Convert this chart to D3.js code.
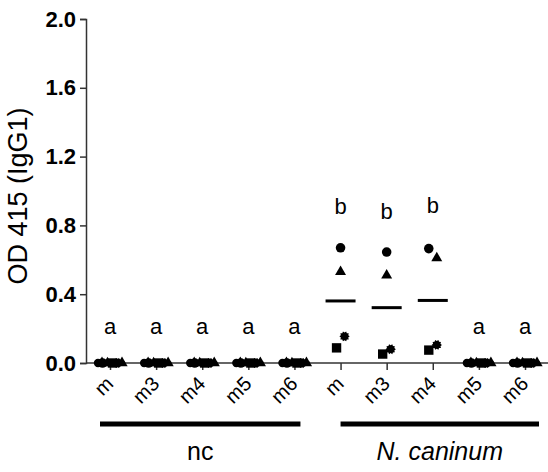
<!DOCTYPE html>
<html lang="en">
<head>
  <meta charset="UTF-8">
  <title>OD 415 (IgG1)</title>
  <script src="https://d3js.org/d3.v7.min.js"></script>
  <style>
    body { margin: 0; background: #fff; font-family: "Liberation Sans", Arial, sans-serif; }
    .tick text { font-family: "Liberation Sans", Arial, sans-serif; }
  </style>
</head>
<body>
<svg width="548" height="472"></svg>
<script>
  // groups on the x axis
  const groups = ["nc", "N. caninum"];
  const antigens = ["m", "m3", "m4", "m5", "m6"];
  // one value per animal (circle, triangle, square, star), per group × antigen
  const ncValues = [
    [0, 0, 0, 0],
    [0, 0, 0, 0],
    [0, 0, 0, 0],
    [0, 0, 0, 0],
    [0, 0, 0, 0]
  ];
  const neoValues = [
    [0.67, 0.53, 0.088, 0.155],
    [0.645, 0.51, 0.052, 0.08],
    [0.665, 0.61, 0.075, 0.105],
    [0, 0, 0, 0],
    [0, 0, 0, 0]
  ];
  const letters = ["a", "a", "a", "a", "a", "b", "b", "b", "a", "a"];
  const letterLevels = [0.17, 0.17, 0.17, 0.17, 0.17, 0.865, 0.84, 0.87, 0.17, 0.17];
  const yTicks = [0, 0.4, 0.8, 1.2, 1.6, 2.0];

  const svg = d3.select("svg");

  const cells = [];
  groups.forEach((g, gi) => {
    const vals = gi === 0 ? ncValues : neoValues;
    antigens.forEach((a, ai) => {
      cells.push({ key: g + "|" + a, group: g, antigen: a, values: vals[ai] });
    });
  });

  const x = d3.scalePoint().domain(cells.map(d => d.key)).range([110, 525]);
  const y = d3.scaleLinear().domain([0, 2]).range([363, 19]);

  // gear-like marker
  const gear = {
    draw(ctx, size) {
      const r = Math.sqrt(size / Math.PI) * 1.08, n = 10;
      for (let i = 0; i < n * 2; i++) {
        const rr = i % 2 ? r * 0.75 : r;
        const ang = i * Math.PI / n;
        i ? ctx.lineTo(rr * Math.cos(ang), rr * Math.sin(ang)) : ctx.moveTo(rr, 0);
      }
      ctx.closePath();
    }
  };
  const shapes = [d3.symbolCircle, d3.symbolTriangle, d3.symbolSquare, gear];
  const sizes = [72, 52, 88, 72];

  // y axis
  const yAxis = svg.append("g")
    .attr("transform", "translate(86,0)")
    .call(d3.axisLeft(y).tickValues(yTicks).tickFormat(d3.format(".1f")).tickSize(6).tickPadding(4));
  yAxis.select(".domain").attr("stroke", "#333").attr("stroke-width", 1.5);
  yAxis.selectAll(".tick line").attr("stroke", "#333").attr("stroke-width", 1.5);
  yAxis.selectAll(".tick text").attr("font-size", 22).attr("font-weight", "bold").attr("fill", "#000");

  // x axis
  const xAxis = svg.append("g")
    .attr("transform", "translate(0,363)")
    .call(d3.axisBottom(x).tickSize(7).tickSizeOuter(0).tickFormat(k => k.split("|")[1]));
  xAxis.select(".domain").attr("d", "M86,0H548").attr("stroke", "#333").attr("stroke-width", 1.5);
  xAxis.selectAll(".tick line").attr("stroke", "#333").attr("stroke-width", 1.5);
  xAxis.selectAll(".tick text")
    .attr("font-size", 20)
    .attr("fill", "#000")
    .attr("text-anchor", "end")
    .attr("x", 0).attr("y", 0).attr("dy", 0)
    .attr("transform", "translate(4,22) rotate(-45)");

  svg.append("text")
    .attr("transform", "translate(27,196) rotate(-90)")
    .attr("text-anchor", "middle")
    .attr("font-size", 27)
    .attr("fill", "#000")
    .text("OD 415 (IgG1)");

  // points
  const pts = svg.append("g");
  cells.forEach(c => {
    const cx = x(c.key);
    const allZero = c.values.every(v => v < 0.01);
    if (allZero) {
      // overlapping replicates at zero spread sideways
      [-12, -8, 8, 12].forEach((o, k) => pts.append("path")
        .attr("transform", `translate(${cx + o},${y(0)})`)
        .attr("d", d3.symbol().type(shapes[k % 2]).size(55)())
        .attr("fill", "#000"));
    }
    c.values.forEach((v, i) => {
      let dx = 0;
      if (allZero) {
        dx = (i - 1.5) * 5;
      } else {
        // dodge neighbours that overlap vertically
        c.values.forEach((w, j) => {
          if (j !== i && Math.abs(y(v) - y(w)) < 12) dx += j > i ? -4 : 4;
        });
      }
      pts.append("path")
        .attr("transform", `translate(${cx + dx},${y(v)})`)
        .attr("d", d3.symbol().type(shapes[i]).size(sizes[i])())
        .attr("fill", "#000");
    });
    // mean line
    const m = d3.mean(c.values);
    svg.append("line")
      .attr("x1", cx - 15).attr("x2", cx + 15)
      .attr("y1", y(m)).attr("y2", y(m))
      .attr("stroke", "#000").attr("stroke-width", 3);
  });

  // significance letters
  svg.append("g").selectAll("text")
    .data(cells)
    .join("text")
    .attr("x", d => x(d.key))
    .attr("y", (d, i) => y(letterLevels[i]))
    .attr("text-anchor", "middle")
    .attr("font-size", 22)
    .attr("fill", "#000")
    .text((d, i) => letters[i]);

  // group bars
  const bars = [
    { name: "nc", x0: x(cells[0].key) - 10, x1: x(cells[4].key) + 6, italic: false },
    { name: "N. caninum", x0: x(cells[5].key), x1: x(cells[9].key) + 14, italic: true }
  ];
  svg.append("g").selectAll("line")
    .data(bars)
    .join("line")
    .attr("x1", d => d.x0).attr("x2", d => d.x1)
    .attr("y1", 424).attr("y2", 424)
    .attr("stroke", "#000").attr("stroke-width", 5);
  svg.append("g").selectAll("text")
    .data(bars)
    .join("text")
    .attr("x", d => (d.x0 + d.x1) / 2)
    .attr("y", 460)
    .attr("text-anchor", "middle")
    .attr("font-size", 25)
    .attr("font-style", d => d.italic ? "italic" : "normal")
    .attr("fill", "#000")
    .text(d => d.name);
</script>
</body>
</html>
